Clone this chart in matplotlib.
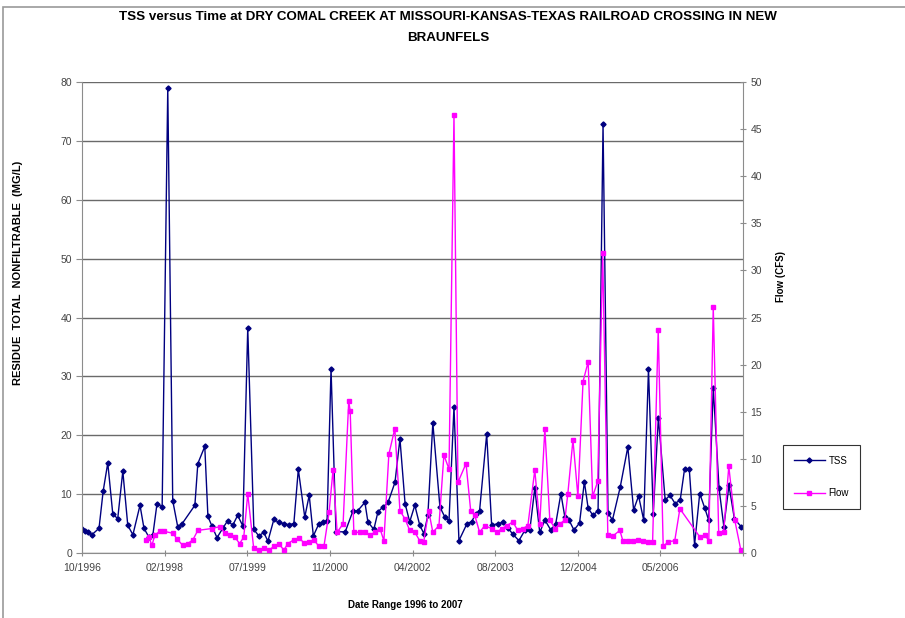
import matplotlib
matplotlib.use("Agg")
import matplotlib.pyplot as plt
import pandas as pd
from matplotlib.patches import Rectangle

# TSS (mg/L) sample dates and values
tss_dates = [
    '1996-10-10', '1996-10-28', '1996-11-15', '1996-12-09', '1997-01-21', '1997-02-15', '1997-03-15', '1997-04-14', '1997-05-14', '1997-06-14',
    '1997-07-14', '1997-08-14', '1997-09-26', '1997-10-20', '1997-11-19', '1997-12-13', '1998-01-07', '1998-02-07', '1998-03-13', '1998-04-12',
    '1998-05-12', '1998-06-06', '1998-08-24', '1998-09-11', '1998-10-23', '1998-11-11', '1998-12-05', '1999-01-05', '1999-02-11', '1999-03-11',
    '1999-04-10', '1999-05-10', '1999-06-10', '1999-07-10', '1999-08-16', '1999-09-15', '1999-10-15', '1999-11-09', '1999-12-15', '2000-01-14',
    '2000-02-14', '2000-03-14', '2000-04-14', '2000-05-11', '2000-06-19', '2000-07-16', '2000-08-10', '2000-09-13', '2000-10-07', '2000-11-01',
    '2000-11-25', '2000-12-25', '2001-02-19', '2001-04-06', '2001-05-06', '2001-06-18', '2001-07-06', '2001-08-11', '2001-09-05', '2001-10-05',
    '2001-11-05', '2001-12-17', '2002-01-16', '2002-02-16', '2002-03-16', '2002-04-16', '2002-05-16', '2002-06-10', '2002-07-04', '2002-08-03',
    '2002-09-15', '2002-10-15', '2002-11-09', '2002-12-09', '2003-01-08', '2003-02-26', '2003-03-26', '2003-04-20', '2003-05-13', '2003-06-25',
    '2003-07-25', '2003-09-01', '2003-10-01', '2003-10-30', '2003-11-30', '2004-01-06', '2004-02-12', '2004-03-12', '2004-04-11', '2004-05-11',
    '2004-06-11', '2004-07-17', '2004-08-16', '2004-09-16', '2004-10-10', '2004-11-04', '2004-12-04', '2005-01-07', '2005-02-05', '2005-02-28',
    '2005-03-29', '2005-04-29', '2005-05-29', '2005-06-28', '2005-07-25', '2005-09-10', '2005-10-26', '2005-11-30', '2005-12-30', '2006-01-30',
    '2006-02-28', '2006-03-29', '2006-04-29', '2006-06-09', '2006-07-08', '2006-08-08', '2006-09-08', '2006-10-04', '2006-11-02', '2006-12-04',
    '2007-01-04', '2007-02-04', '2007-02-27', '2007-03-27', '2007-05-01', '2007-05-30', '2007-06-30', '2007-08-02', '2007-09-11']
tss_vals = [
    4.0, 3.8, 3.6, 3.1, 4.2, 10.5, 15.3, 6.7, 5.8, 13.9,
    4.7, 3.1, 8.1, 4.2, 2.7, 3.1, 8.4, 7.8, 78.9, 8.9,
    4.5, 4.9, 8.1, 15.2, 18.1, 6.2, 4.6, 2.6, 4.3, 5.5,
    4.7, 6.4, 4.6, 38.2, 4.0, 2.9, 3.5, 2.0, 5.7, 5.2,
    5.0, 4.8, 5.0, 14.2, 6.1, 9.8, 2.9, 5.0, 5.2, 5.4,
    31.3, 3.6, 3.6, 7.1, 7.2, 8.6, 5.3, 4.0, 7.0, 7.8,
    8.6, 12.0, 19.4, 8.4, 5.3, 8.1, 4.7, 3.3, 6.4, 22.1,
    7.8, 6.1, 5.5, 24.8, 2.1, 5.0, 5.3, 6.7, 7.2, 20.2,
    4.7, 5.0, 5.2, 4.3, 3.2, 2.1, 3.9, 3.9, 11.0, 3.5,
    5.6, 3.9, 5.0, 10.1, 6.1, 5.6, 3.9, 5.1, 12.1, 7.6,
    6.4, 7.2, 72.8, 6.8, 5.6, 11.2, 18.0, 7.3, 9.7, 5.6,
    31.2, 6.7, 23.0, 9.0, 9.8, 8.4, 9.0, 14.2, 14.2, 1.4,
    10.1, 7.6, 5.6, 28.1, 11.0, 4.5, 11.5, 5.8, 4.5]

# Flow (CFS) sample dates and values
flow_dates = [
    '1997-11-03', '1997-11-19', '1997-12-07', '1997-12-25', '1998-01-23', '1998-02-19', '1998-04-12', '1998-05-08', '1998-06-12', '1998-07-12',
    '1998-08-12', '1998-09-11', '1998-12-05', '1999-01-23', '1999-02-22', '1999-03-22', '1999-04-22', '1999-05-22', '1999-06-16', '1999-07-10',
    '1999-08-15', '1999-09-15', '1999-10-15', '1999-11-15', '1999-12-15', '2000-01-14', '2000-02-14', '2000-03-08', '2000-04-14', '2000-05-14',
    '2000-06-14', '2000-07-14', '2000-08-13', '2000-09-13', '2000-10-13', '2000-11-13', '2000-12-07', '2001-01-01', '2001-02-06', '2001-03-12',
    '2001-03-21', '2001-04-12', '2001-05-18', '2001-06-18', '2001-07-18', '2001-08-17', '2001-09-17', '2001-10-11', '2001-11-10', '2001-12-16',
    '2002-01-16', '2002-02-16', '2002-03-16', '2002-04-16', '2002-05-16', '2002-06-09', '2002-07-09', '2002-08-03', '2002-09-09', '2002-10-09',
    '2002-11-09', '2002-12-09', '2003-01-02', '2003-02-20', '2003-03-20', '2003-04-14', '2003-05-13', '2003-06-13', '2003-07-25', '2003-08-25',
    '2003-09-25', '2003-10-24', '2003-11-30', '2003-12-30', '2004-01-30', '2004-02-29', '2004-04-11', '2004-05-11', '2004-06-11', '2004-07-11',
    '2004-08-11', '2004-09-10', '2004-10-10', '2004-10-28', '2004-11-28', '2004-12-28', '2005-01-28', '2005-02-28', '2005-03-27', '2005-04-27',
    '2005-05-27', '2005-06-27', '2005-07-27', '2005-09-08', '2005-09-26', '2005-10-26', '2005-11-26', '2005-12-26', '2006-01-26', '2006-02-25',
    '2006-03-25', '2006-04-28', '2006-05-28', '2006-06-28', '2006-08-06', '2006-09-06', '2007-01-05', '2007-02-05', '2007-02-28', '2007-03-27',
    '2007-04-29', '2007-05-29', '2007-06-29', '2007-08-04', '2007-09-10']
flow_vals = [
    1.4, 1.7, 0.8, 1.9, 2.3, 2.3, 2.1, 1.5, 0.8, 1.0,
    1.4, 2.4, 2.6, 2.8, 2.1, 1.9, 1.7, 1.0, 1.7, 6.3,
    0.5, 0.3, 0.5, 0.3, 0.7, 1.0, 0.3, 1.0, 1.4, 1.6,
    1.1, 1.2, 1.4, 0.7, 0.7, 4.3, 8.8, 2.2, 3.1, 16.1,
    15.1, 2.2, 2.2, 2.2, 1.9, 2.2, 2.6, 1.3, 10.5, 13.2,
    4.5, 3.6, 2.4, 2.2, 1.3, 1.2, 4.5, 2.2, 2.9, 10.4,
    8.9, 46.5, 7.5, 9.5, 4.5, 4.0, 2.2, 2.9, 2.6, 2.2,
    2.6, 2.9, 3.3, 2.4, 2.6, 2.9, 8.8, 3.1, 13.2, 3.5,
    2.6, 3.1, 3.5, 6.3, 12.0, 6.0, 18.2, 20.3, 6.0, 7.6,
    31.8, 1.9, 1.8, 2.4, 1.3, 1.3, 1.3, 1.4, 1.3, 1.2,
    1.2, 23.7, 0.7, 1.2, 1.3, 4.7, 1.7, 1.9, 1.3, 26.1,
    2.1, 2.2, 9.2, 3.5, 0.3]

plt.rcParams['font.family'] = ['Liberation Sans', 'DejaVu Sans']

W, H = 905, 618
fig = plt.figure(figsize=(W / 100, H / 100), dpi=100)

# outer chart frame (only left/top visible)
fig.patches.append(Rectangle((3 / W, -0.1), 2.0, 1 - 7 / H + 0.1, transform=fig.transFigure,
                             fill=False, edgecolor='#9a9a9a', linewidth=1.2))

ax = fig.add_axes([82 / W, 1 - 553 / H, (743 - 82) / W, (553 - 82) / H])
ax2 = ax.twinx()

t_tss = pd.to_datetime(tss_dates)
t_flow = pd.to_datetime(flow_dates)

ln1, = ax.plot(t_tss, tss_vals, color='#000080', lw=1.0, marker='D', ms=2.6, label='TSS')
ln2, = ax2.plot(t_flow, flow_vals, color='#ff00ff', lw=1.0, marker='s', ms=2.6, label='Flow')

# Excel-style date axis: 500-day major unit starting at the first sample
start = pd.Timestamp('1996-10-10')
ticks = [start + pd.Timedelta(days=500 * k) for k in range(9)]
ax.set_xlim(start, start + pd.Timedelta(days=4000))
ax.set_xticks(ticks)
ax.set_xticklabels([d.strftime('%m/%Y') for d in ticks[:8]] + [''])

ax.set_ylim(0, 80)
ax.set_yticks(range(0, 81, 10))
ax2.set_ylim(0, 50)
ax2.set_yticks(range(0, 51, 5))

ax.grid(axis='y', color='#6a6a6a', lw=1.0)
ax.set_axisbelow(True)
for a in (ax, ax2):
    a.set_facecolor('none')
    a.spines['top'].set_visible(False)
    for s in ('left', 'bottom', 'right'):
        a.spines[s].set_color('#8c8c8c')
ax.spines['right'].set_visible(False)
ax2.spines['left'].set_visible(False)
ax2.spines['bottom'].set_visible(False)

ax.tick_params(axis='y', direction='out', length=4, color='#8c8c8c', labelsize=7.5, labelcolor='#444444', pad=3)
ax.tick_params(axis='x', direction='inout', length=5, color='#8c8c8c', labelsize=7.5, labelcolor='#444444', pad=5)
ax2.tick_params(axis='y', direction='inout', length=5, color='#8c8c8c', labelsize=7.5, labelcolor='#444444', pad=3)

fig.text(448 / W, 1 - 17 / H,
         'TSS versus Time at DRY COMAL CREEK AT MISSOURI-KANSAS-TEXAS RAILROAD CROSSING IN NEW',
         ha='center', va='center', fontsize=9.6, fontweight='bold')
fig.text(448 / W, 1 - 38 / H, 'BRAUNFELS', ha='center', va='center', fontsize=9.6, fontweight='bold')
fig.text(405 / W, 1 - 605 / H, 'Date Range 1996 to 2007', ha='center', va='center',
         fontsize=7, fontweight='bold')
fig.text(18 / W, 1 - 273 / H, 'RESIDUE  TOTAL  NONFILTRABLE  (MG/L)', rotation=90, ha='center',
         va='center', fontsize=8, fontweight='bold')
fig.text(781 / W, 1 - 276 / H, 'Flow (CFS)', rotation=90, ha='center', va='center',
         fontsize=7, fontweight='bold')

leg = fig.legend(handles=[ln1, ln2], loc='upper left', bbox_to_anchor=(783 / W, 1 - 445 / H),
                 fontsize=7, frameon=True, fancybox=False, edgecolor='black', labelspacing=2.3,
                 handlelength=3.2, borderpad=1.1, handletextpad=0.4, borderaxespad=0)
leg.get_frame().set_linewidth(0.8)

fig.savefig('out.png', dpi=100)
